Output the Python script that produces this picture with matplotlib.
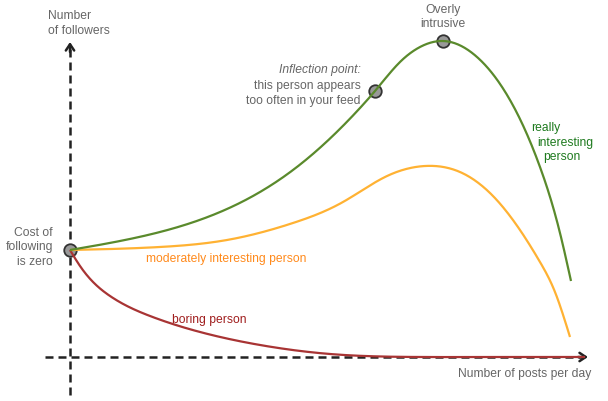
import numpy as np
import matplotlib
matplotlib.use("Agg")
import matplotlib.pyplot as plt

plt.rcParams['font.family'] = ['Liberation Sans', 'DejaVu Sans']

# (x = posts per day position, y = followers position, screen units)
really_x = [70, 160, 227, 293, 360, 375, 400, 420, 443, 477, 510, 540, 560, 571]
really_y = [250, 232, 209, 170, 108, 91, 62, 47, 41, 57, 100, 167, 233, 281]

moderate_x = [70, 160, 227, 293, 343, 385, 425, 460, 493, 520, 540, 555, 570]
moderate_y = [250, 247, 240, 223, 202, 177, 166, 172, 196, 230, 262, 292, 337]

boring_x = [70, 80, 110, 150, 200, 260, 330, 420, 500, 585]
boring_y = [250, 266, 296, 316, 332, 345, 354, 357, 357, 357]

marker_x = [70, 375, 443]
marker_y = [250, 91, 41]


def spline(xs, ys, n=600):
    """Natural cubic spline through the read points (for drawing a smooth line)."""
    x = np.asarray(xs, float)
    y = np.asarray(ys, float)
    m = len(x)
    h = np.diff(x)
    A = np.zeros((m, m))
    r = np.zeros(m)
    A[0, 0] = A[-1, -1] = 1
    for i in range(1, m - 1):
        A[i, i - 1] = h[i - 1]
        A[i, i] = 2 * (h[i - 1] + h[i])
        A[i, i + 1] = h[i]
        r[i] = 6 * ((y[i + 1] - y[i]) / h[i] - (y[i] - y[i - 1]) / h[i - 1])
    M = np.linalg.solve(A, r)
    xx = np.linspace(x[0], x[-1], n)
    k = np.clip(np.searchsorted(x, xx) - 1, 0, m - 2)
    t0 = x[k + 1] - xx
    t1 = xx - x[k]
    hk = h[k]
    yy = (M[k] * t0 ** 3 + M[k + 1] * t1 ** 3) / (6 * hk) \
        + (y[k] / hk - M[k] * hk / 6) * t0 + (y[k + 1] / hk - M[k + 1] * hk / 6) * t1
    return xx, yy


fig = plt.figure(figsize=(6.08, 4.01), dpi=100)
ax = fig.add_axes([0, 0, 1, 1])
ax.set_xlim(0, 608)
ax.set_ylim(401, 0)
ax.axis('off')

axis_color = '#222222'
dash = (0, (3.2, 2.0))
ax.plot([70, 70], [395, 46], color=axis_color, lw=1.8, linestyle=dash, zorder=1)
ax.plot([45, 583], [357, 357], color=axis_color, lw=1.8, linestyle=dash, zorder=1)
ax.annotate('', xy=(70, 42), xytext=(70, 52),
            arrowprops=dict(arrowstyle='->,head_length=0.45,head_width=0.3', lw=1.8, color=axis_color,
                            shrinkA=0, shrinkB=0))
ax.annotate('', xy=(588, 357), xytext=(578, 357),
            arrowprops=dict(arrowstyle='->,head_length=0.45,head_width=0.3', lw=1.8, color=axis_color,
                            shrinkA=0, shrinkB=0))

ax.plot(marker_x, marker_y, 'o', ms=9, mfc='#999999', mec='#333333', mew=1.3, zorder=2)

for xs, ys, c in ((boring_x, boring_y, '#a83434'),
                  (moderate_x, moderate_y, '#ffb233'),
                  (really_x, really_y, '#5a8a2c')):
    sx, sy = spline(xs, ys)
    ax.plot(sx, sy, color=c, lw=1.6, zorder=3, solid_capstyle='butt')

fs = 8.7
gray = '#666666'
ax.text(48, 16, 'Number', color=gray, fontsize=fs, ha='left', va='center')
ax.text(48, 31, 'of followers', color=gray, fontsize=fs, ha='left', va='center')
ax.text(443, 10, 'Overly', color=gray, fontsize=fs, ha='center', va='center')
ax.text(443, 24, 'intrusive', color=gray, fontsize=fs, ha='center', va='center')
ax.text(361, 70, 'Inflection point:', color=gray, fontsize=fs, ha='right', va='center', style='italic')
ax.text(361, 86, 'this person appears', color=gray, fontsize=fs, ha='right', va='center')
ax.text(361, 101, 'too often in your feed', color=gray, fontsize=fs, ha='right', va='center')
ax.text(53, 233, 'Cost of', color=gray, fontsize=fs, ha='right', va='center')
ax.text(53, 247, 'following', color=gray, fontsize=fs, ha='right', va='center')
ax.text(53, 262, 'is zero', color=gray, fontsize=fs, ha='right', va='center')
ax.text(146, 259, 'moderately interesting person', color='#ff8a1c', fontsize=fs, ha='left', va='center')
ax.text(172, 320, 'boring person', color='#a01e1e', fontsize=fs, ha='left', va='center')
ax.text(531, 128, 'really', color='#1e7a1e', fontsize=fs, ha='left', va='center')
ax.text(537, 143, 'interesting', color='#1e7a1e', fontsize=fs, ha='left', va='center')
ax.text(543, 157, 'person', color='#1e7a1e', fontsize=fs, ha='left', va='center')
ax.text(458, 374, 'Number of posts per day', color=gray, fontsize=fs, ha='left', va='center')

fig.savefig('out.png', dpi=100)
